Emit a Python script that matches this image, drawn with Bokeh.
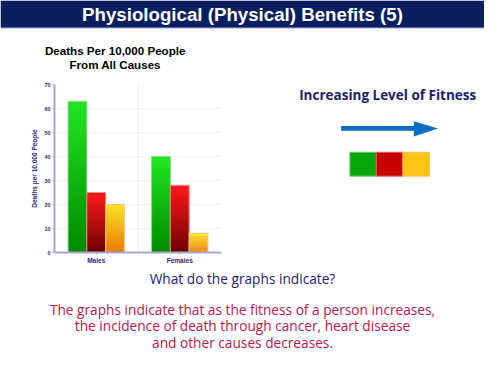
from bokeh.plotting import figure
from bokeh.models import Range1d, FactorRange, ColumnDataSource, FixedTicker
from bokeh.layouts import column, row
from bokeh.transform import dodge
from bokeh.core.properties import value
from bokeh.embed import file_html
from bokeh.resources import INLINE

# ---------------- data ----------------
slide_title = "Physiological (Physical) Benefits (5)"
chart_title_1 = "Deaths Per 10,000 People"
chart_title_2 = "From All Causes"
y_axis_label = "Deaths per 10,000 People"
groups = ["Males", "Females"]
fitness_levels = ["Low", "Moderate", "High"]
low_fitness = [63, 40]
moderate_fitness = [25, 28]
high_fitness = [20, 8]
y_ticks = [0, 10, 20, 30, 40, 50, 60, 70]
fitness_caption = "Increasing Level of Fitness"
question = "What do the graphs indicate?"
answer_lines = [
    "The graphs indicate that as the fitness of a person increases,",
    "the incidence of death through cancer, heart disease",
    "and other causes decreases.",
]

series = [low_fitness, moderate_fitness, high_fitness]
# (top colour, bottom colour, outline)
grad = [("#22e622", "#008a00", "#8ad88a"),
        ("#ff1a1a", "#6e0000", "#e08a8a"),
        ("#ffe326", "#ea7a00", "#f0c880")]
offsets = [-0.225, 0.0, 0.225]
BAR_W = 0.225

BODY_FONT = value("Open Sans")
NAVY = "#1c1c70"


def hex2rgb(h):
    return tuple(int(h[i:i + 2], 16) for i in (1, 3, 5))


def mix(c_top, c_bot, f):
    a, b = hex2rgb(c_top), hex2rgb(c_bot)
    return "#%02x%02x%02x" % tuple(round(b[i] + (a[i] - b[i]) * f) for i in range(3))


# ---------------- top area: title band + chart title ----------------
tfig = figure(width=484, height=80, x_range=Range1d(0, 500), y_range=Range1d(83.6, 0),
              output_backend="svg", toolbar_location=None,
              x_axis_location=None, y_axis_location=None, min_border=0)
tfig.grid.visible = False
tfig.outline_line_color = None
tfig.quad(left=0, right=500, top=0, bottom=27.8, fill_color="#0b1f60", line_color=None)
tfig.quad(left=0, right=500, top=27.6, bottom=29, fill_color="#4a64a4", line_color=None)
tfig.text(x=[250], y=[14.5], text=[slide_title], text_font=value("Liberation Sans"),
          text_font_size="18.7px", text_font_style="bold", text_color="white",
          text_align="center", text_baseline="middle")
tfig.text(x=[118.5, 118.5], y=[52, 67], text=[chart_title_1, chart_title_2],
          text_font=value("Liberation Sans"), text_font_size="11.6px",
          text_font_style="bold", text_color="black",
          text_align="center", text_baseline="middle")

# ---------------- bar chart ----------------
p = figure(width=237, height=186, x_range=FactorRange(factors=groups),
           y_range=Range1d(0, 70), output_backend="svg", toolbar_location=None,
           title=None, min_border_left=54, min_border_right=16,
           min_border_top=4, min_border_bottom=14)
p.outline_line_color = None
p.background_fill_color = "white"

for vals, (ctop, cbot, cout), off in zip(series, grad, offsets):
    N = 40
    xs, bots, tops, cols = [], [], [], []
    for g, v in zip(groups, vals):
        for k in range(N):
            xs.append(g)
            bots.append(v * k / N)
            tops.append(v * min(k + 1.6, N) / N)
            cols.append(mix(ctop, cbot, (k + 0.5) / N))
    src = ColumnDataSource(dict(x=xs, bottom=bots, top=tops, color=cols))
    p.vbar(x=dodge("x", off, range=p.x_range), width=BAR_W, bottom="bottom", top="top",
           fill_color="color", line_color=None, source=src)
    osrc = ColumnDataSource(dict(x=groups, top=vals))
    p.vbar(x=dodge("x", off, range=p.x_range), width=BAR_W, top="top", bottom=0,
           fill_alpha=0, line_color=cout, line_width=1, source=osrc)

p.yaxis.ticker = y_ticks
p.yaxis.axis_label = y_axis_label
p.yaxis.axis_label_text_font_size = "6.5px"
p.yaxis.axis_label_text_font_style = "bold"
p.yaxis.axis_label_text_color = "#2a2a80"
p.yaxis.axis_label_standoff = 3
p.yaxis.axis_label_text_font = "Liberation Sans"
for ax in (p.xaxis, p.yaxis):
    ax.axis_line_color = "#a6a6d2"
    ax.axis_line_width = 2
    ax.major_tick_line_color = "#a6a6d2"
    ax.major_tick_out = 2
    ax.major_tick_in = 0
    ax.minor_tick_line_color = None
    ax.major_label_text_font = "Liberation Sans"
    ax.major_label_text_font_style = "bold"
    ax.major_label_text_color = "#2a2a80"
    ax.major_label_standoff = 2
p.yaxis.major_label_text_font_size = "5.5px"
p.xaxis.major_label_text_font_size = "6.5px"
p.ygrid.grid_line_color = "#f0f0f0"
p.xgrid.ticker = FixedTicker(ticks=[1])
p.xgrid.grid_line_color = "#f0f0f0"

# ---------------- right panel (frame aligned with the chart frame) ----------------
r = figure(width=247, height=186, x_range=Range1d(245, 500), y_range=Range1d(263, 87),
           output_backend="svg", toolbar_location=None,
           x_axis_location=None, y_axis_location=None,
           min_border_left=0, min_border_right=0, min_border_top=4, min_border_bottom=14)
r.grid.visible = False
r.outline_line_color = None
r.text(x=[400], y=[98.5], text=[fitness_caption], text_font=BODY_FONT,
       text_font_size="13.5px", text_font_style="bold", text_color=NAVY,
       text_align="center", text_baseline="middle")
r.quad(left=352, right=428, top=130.5, bottom=135.5, fill_color="#0a6ec4", line_color=None)
r.patch(x=[427, 452, 427], y=[125.5, 133, 141.5], fill_color="#0a6ec4", line_color=None)
key_left = [361 + 27.4 * i for i in range(len(fitness_levels))]
key_right = [361 + 27.4 * (i + 1) for i in range(len(fitness_levels))]
r.quad(left=key_left, right=key_right, top=158, bottom=183,
       fill_color=["#08a808", "#c80000", "#fcc414"],
       line_color=["#6cc86c", "#d86060", "#f0c060"], line_width=1)

# ---------------- bottom text ----------------
b = figure(width=484, height=93, x_range=Range1d(0, 500), y_range=Range1d(375, 278),
           output_backend="svg", toolbar_location=None,
           x_axis_location=None, y_axis_location=None, min_border=0)
b.grid.visible = False
b.outline_line_color = None
b.text(x=[250], y=[290], text=[question], text_font=BODY_FONT, text_font_size="13.7px",
       text_color="#22227a", text_align="center", text_baseline="middle")
b.text(x=[250, 250, 250], y=[323, 340, 357], text=answer_lines, text_font=BODY_FONT,
       text_font_size="13.7px", text_color="#b8164a", text_align="center",
       text_baseline="middle")

layout = column(tfig, row(p, r, spacing=0), b, spacing=0)
open("out.html", "w").write(file_html(layout, INLINE))
